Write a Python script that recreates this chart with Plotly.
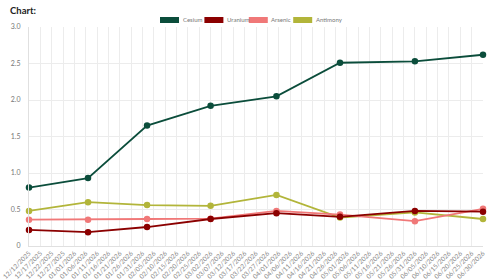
import plotly.graph_objects as go

dates = ["2025-12-12", "2026-01-07", "2026-02-02", "2026-03-02",
         "2026-03-31", "2026-04-28", "2026-05-31", "2026-06-30"]
series_names = ["Cesium", "Uranium", "Arsenic", "Antimony"]
series_colors = ["#0b4d3b", "#8b0000", "#f07878", "#b2b53a"]
cesium = [0.80, 0.93, 1.65, 1.92, 2.05, 2.51, 2.53, 2.62]
uranium = [0.22, 0.19, 0.26, 0.37, 0.45, 0.40, 0.48, 0.47]
arsenic = [0.36, 0.36, 0.37, 0.375, 0.48, 0.43, 0.34, 0.51]
antimony = [0.48, 0.60, 0.56, 0.55, 0.70, 0.39, 0.46, 0.37]
series_values = [cesium, uranium, arsenic, antimony]
y_tickvals = [0, 0.5, 1.0, 1.5, 2.0, 2.5, 3.0]
y_ticktext = ["0", "0.5", "1.0", "1.5", "2.0", "2.5", "3.0"]

W, H = 500, 280
L, R, T, B = 29, 17, 27, 34
pw, ph = W - L - R, H - T - B

def px_x(p):
    return (p - L) / pw

def px_y(p):
    return (H - B - p) / ph

fig = go.Figure()
# draw in reverse so Cesium is on top
for name, color, vals in reversed(list(zip(series_names, series_colors, series_values))):
    fig.add_trace(go.Scatter(
        x=dates, y=vals, name=name, mode="lines+markers",
        line=dict(color=color, width=1.8),
        marker=dict(color=color, size=6.5),
        showlegend=False, hoverinfo="skip", cliponaxis=False))

shapes = []
annotations = []
font = "Lato, Arial, sans-serif"
for i, (name, color) in enumerate(zip(series_names, series_colors)):
    x0 = 160 + i * 44.4
    shapes.append(dict(type="rect", xref="paper", yref="paper",
                       x0=px_x(x0), x1=px_x(x0 + 19), y0=px_y(23), y1=px_y(17),
                       fillcolor=color, line=dict(width=0)))
    annotations.append(dict(xref="paper", yref="paper", x=px_x(x0 + 20.5), y=px_y(20),
                            text=name, showarrow=False, xanchor="left", yanchor="middle",
                            font=dict(family=font, size=6, color="#777")))
annotations.append(dict(xref="paper", yref="paper", x=px_x(8), y=px_y(10),
                        text="<b>Chart:</b>", showarrow=False, xanchor="left", yanchor="middle",
                        font=dict(family=font, size=9.5, color="#222")))

fig.update_layout(
    width=W, height=H, margin=dict(l=L, r=R, t=T, b=B, autoexpand=False),
    paper_bgcolor="white", plot_bgcolor="white",
    shapes=shapes, annotations=annotations, showlegend=False,
    font=dict(family=font, size=7, color="#666"),
)
fig.update_xaxes(
    type="date", range=["2025-12-12", "2026-06-30"], automargin=False,
    tick0="2025-12-12", dtick=5 * 86400000, tickformat="%m/%d/%Y",
    tickangle=-45, tickfont=dict(size=6.5, color="#888"),
    showgrid=True, gridcolor="#ececec", gridwidth=1,
    showline=True, linecolor="#e0e0e0", zeroline=False, ticks="",
)
fig.update_yaxes(
    range=[0, 3], tickvals=y_tickvals, ticktext=y_ticktext, automargin=False,
    tickfont=dict(size=7, color="#777"),
    showgrid=True, gridcolor="#ececec", gridwidth=1,
    zeroline=False, showline=True, linecolor="#e0e0e0", ticks="", ticklabelstandoff=6,
)
fig.write_html("out.html")
